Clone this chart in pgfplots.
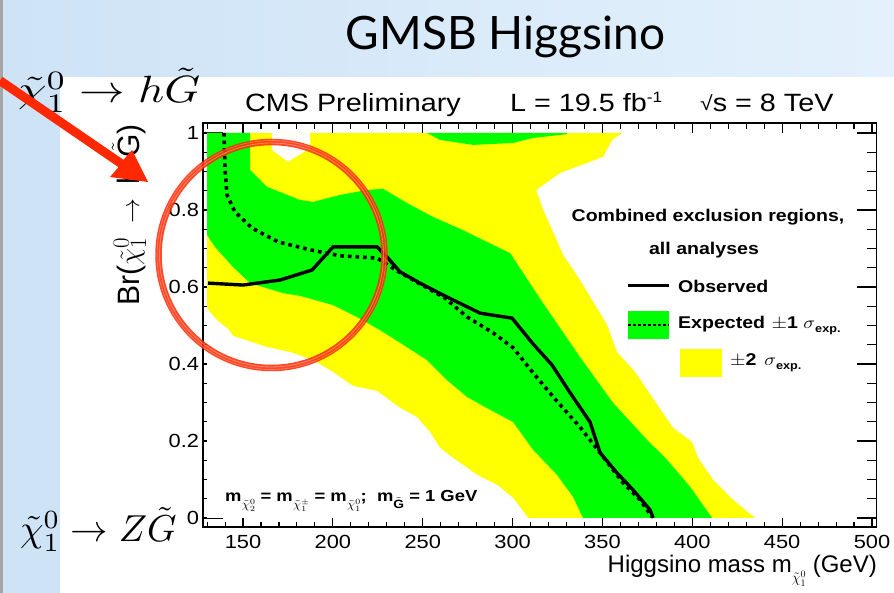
\documentclass[border=0pt]{standalone}
\usepackage{pgfplots}
\pgfplotsset{compat=1.18}
\usepackage{fontspec}
\usepackage{graphicx}
\setmainfont{Liberation Sans}
\newfontfamily\latofont{Lato}
\newcommand{\sx}[1]{\scalebox{1.15}[1]{#1}}
\newcommand{\sub}[1]{\raisebox{-7pt}{\fontsize{12}{12}\selectfont$#1$}}
\definecolor{rgreen}{RGB}{0,255,0}
\definecolor{ryellow}{RGB}{255,255,0}
\definecolor{slideblueL}{RGB}{206,227,246}
\definecolor{slideblueR}{RGB}{228,241,252}
\definecolor{annred}{RGB}{255,40,0}
\begin{document}
\begin{tikzpicture}[x=1pt,y=1pt]
\path[use as bounding box] (0,0) rectangle (894,593);
\fill[white] (0,0) rectangle (894,593);
\shade[left color=slideblueL, right color=slideblueR] (0,516) rectangle (894,593);
\fill[slideblueL] (0,0) rectangle (60,516);
\fill[black!35] (0,0) rectangle (2.5,593);
\node[anchor=base] at (505.5,543) {\fontsize{46}{46}\selectfont\latofont GMSB Higgsino};

\begin{axis}[
  at={(202.6pt,65.4pt)}, anchor=south west,
  scale only axis, width=673.9pt, height=404.25pt,
  xmin=127.5, xmax=502.5, ymin=-0.025, ymax=1.025,
  xtick=\empty,
  ytick={0,0.2,0.4,0.6,0.8,1},
  minor ytick={0.05,0.1,0.15,0.25,0.3,0.35,0.45,0.5,0.55,0.65,0.7,0.75,0.85,0.9,0.95},
  major tick length=20pt, minor tick length=10pt,
  tick style={black, line width=1.1pt},
  axis line style={line width=1.8pt},
  /pgf/number format/assume math mode=true,
  yticklabel style={font=\fontsize{19}{19}\selectfont},
  yticklabel={\sx{\pgfmathprintnumber{\tick}}},
]
% +2 sigma outer region
\addplot[fill=ryellow, draw=none] coordinates {
(130,0) (130,1) (360.9,1) (355.4,0.982) (350.3,0.938) (326.4,0.896) (313.1,0.852)
(317.0,0.800) (322.5,0.743) (328.1,0.683) (337.5,0.618) (345.9,0.553) (352.6,0.501)
(358.1,0.431) (368.2,0.379) (377.6,0.314) (389.3,0.234) (399.9,0.197) (403.2,0.156)
(411.6,0.099) (422.7,0.047) (434.9,0)} -- cycle;
% +-1 sigma band
\addplot[fill=rgreen, draw=none] coordinates {
(130,1) (153.9,1) (153.9,0.904) (163.4,0.860) (181.7,0.826) (189.0,0.821) (204.0,0.839)
(219.0,0.852) (227.9,0.855) (241.3,0.818) (255.7,0.782) (270.8,0.751) (298.6,0.688)
(315.8,0.566) (337.5,0.418) (355.9,0.299) (374.8,0.203) (386.0,0.151) (398.8,0.081)
(411.0,0) (339.2,0) (333.6,0.055) (324.7,0.112) (311.4,0.177) (300.3,0.249) (287.5,0.281)
(274.7,0.314) (263.5,0.358) (252.4,0.410) (237.4,0.455) (226.2,0.488) (213.4,0.522)
(200.1,0.553) (181.7,0.577) (172.3,0.584) (153.9,0.610) (144.4,0.652) (134.4,0.704)
(130,0.735)} -- cycle;
\addplot[fill=rgreen, draw=none] coordinates {
(252.4,1) (259.6,0.982) (278.0,0.969) (300.3,0.974) (311.4,0.987) (330.3,0.997) (330.3,1)} -- cycle;
% -2 sigma (white, not excluded)
\addplot[fill=white, draw=none] coordinates {
(130,0) (130,0.545) (131.6,0.535) (135.5,0.514) (141.7,0.491) (144.4,0.473) (163.4,0.444)
(176.2,0.431) (189.0,0.410) (200.1,0.379) (211.2,0.343) (224.6,0.330) (237.4,0.286)
(246.8,0.262) (254.1,0.223) (259.6,0.182) (266.9,0.156) (280.2,0.112) (291.4,0.086)
(300.3,0.052) (308.6,0)} -- cycle;
\addplot[fill=white, draw=none] coordinates {
(166.1,1) (166.1,0.956) (175.0,0.925) (187.3,0.961) (187.3,1)} -- cycle;
% expected
\addplot[black, line width=3.6pt, dash pattern=on 3.6pt off 4pt] coordinates {
(139.4,1.0) (140.0,0.904) (141.1,0.839) (145.5,0.795) (155.0,0.753) (169.5,0.717)
(187.8,0.696) (204.0,0.681) (224.6,0.675) (235.7,0.642) (248.5,0.608) (262.4,0.571)
(274.7,0.522) (289.1,0.481) (300.3,0.442) (311.4,0.377) (323.6,0.309) (337.5,0.236)
(348.7,0.169) (361.5,0.091) (370.9,0.047) (377.6,0.003)};
% observed
\addplot[black, line width=3.4pt] coordinates {
(130.5,0.610) (150,0.605) (170.6,0.618) (188.4,0.644) (200.1,0.704) (224.6,0.704)
(230.1,0.678) (237.4,0.639) (248.5,0.610) (261.3,0.579) (281.9,0.532) (299.7,0.519)
(311.4,0.452) (322.0,0.397) (332.0,0.325) (343.1,0.249) (348.7,0.169) (358.1,0.117)
(367.0,0.073) (376.5,0.021) (378.2,0.0)};
\end{axis}

\begin{axis}[
  at={(202.6pt,65.4pt)}, anchor=south west,
  scale only axis, width=673.9pt, height=404.25pt,
  xmin=127.5, xmax=502.5, ymin=-0.025, ymax=1.025,
  ytick=\empty,
  xtick={150,200,250,300,350,400,450,500},
  minor xtick={130,140,160,170,180,190,210,220,230,240,260,270,280,290,310,320,330,340,360,370,380,390,410,420,430,440,460,470,480,490},
  major tick length=10pt, minor tick length=6pt,
  tick style={black, line width=1.1pt},
  axis line style={line width=1.8pt},
  /pgf/number format/assume math mode=true,
  xticklabel style={font=\fontsize{19}{19}\selectfont, yshift=-3.7pt},
  xticklabel={\sx{\pgfmathprintnumber{\tick}}},
]
\draw[line width=2.8pt] (rel axis cs:0,0) -- (rel axis cs:1,0);
\end{axis}

% texts around the frame
\node[anchor=base west, inner sep=0] at (245,481) {\fontsize{25}{25}\selectfont\sx{CMS Preliminary}};
\node[anchor=base west, inner sep=0] at (510,481) {\fontsize{25}{25}\selectfont\sx{L = 19.5 fb\raisebox{9pt}{\fontsize{15}{15}\selectfont -1}}};
\node[anchor=base west, inner sep=0] at (700,481) {\fontsize{25}{25}\selectfont\sx{\raisebox{1pt}{\fontsize{20}{20}\selectfont\char"221A}s = 8 TeV}};
\node[anchor=base east, inner sep=0] at (877,20) {\fontsize{24}{24}\selectfont Higgsino mass m\raisebox{-10pt}{\fontsize{14}{14}\selectfont$\tilde{\chi}^{0}_{1}$} (GeV)};
\node[rotate=90, anchor=center, inner sep=0] at (129,378) {\scalebox{1}[1.03]{\fontsize{30}{30}\selectfont Br(\scalebox{1.1}{$\tilde{\chi}^{0}_{1}$}\hspace{6pt} $\rightarrow$ \hspace{5pt}h\hspace{2pt} $\tilde{\mbox{G}}$)}};

% legend
\node[anchor=center, inner sep=0] at (708,376) {\fontsize{17}{17}\selectfont\sx{\textbf{Combined exclusion regions,}}};
\node[anchor=center, inner sep=0] at (704,343) {\fontsize{17}{17}\selectfont\sx{\textbf{all analyses}}};
\draw[black, line width=3pt] (628,307) -- (669,307);
\node[anchor=west, inner sep=0] at (678,307) {\fontsize{17}{17}\selectfont\sx{\textbf{Observed}}};
\fill[rgreen] (628,254) rectangle (669,282);
\draw[black, line width=1.2pt, dash pattern=on 3pt off 2pt] (628,268) -- (669,268);
\node[anchor=west, inner sep=0] at (678,268) {\fontsize{17}{17}\selectfont\sx{\textbf{Expected} \hspace{1pt}$\pm$\textbf{1} \raisebox{0pt}{\fontsize{19}{19}\selectfont$\sigma$}\raisebox{-4pt}{\fontsize{11}{11}\selectfont\textbf{exp.}}}};
\fill[ryellow] (680,216) rectangle (722,244);
\node[anchor=west, inner sep=0] at (730,230) {\fontsize{17}{17}\selectfont\sx{$\pm$\textbf{2} \hspace{2pt}{\fontsize{19}{19}\selectfont$\sigma$}\raisebox{-4pt}{\fontsize{11}{11}\selectfont\textbf{exp.}}}};
\node[anchor=base west, inner sep=0] at (225,91) {\fontsize{16}{16}\selectfont\sx{\textbf{m}\sub{\tilde{\chi}^{0}_{2}}\textbf{ = m}\sub{\tilde{\chi}^{\pm}_{1}}\textbf{ = m}\sub{\tilde{\chi}^{0}_{1}}\textbf{;\ \ m}\sub{\tilde{\mbox{\textbf{G}}}}\textbf{ = 1 GeV}}};

% slide annotations
\node[anchor=base west, inner sep=0] at (18,490) {\scalebox{4.56}[3.8]{$\tilde{\chi}^{0}_{1}\rightarrow h\tilde{G}$}};
\node[anchor=base west, inner sep=0] at (20,51) {\scalebox{3.75}{$\tilde{\chi}^{0}_{1}\rightarrow Z\tilde{G}$}};

% red circle
\draw[annred, line width=6.5pt, opacity=0.85] (271.5,338) circle (113);
\draw[white, line width=0.8pt, opacity=0.35] (271.5,338) circle (112);
\draw[white, line width=0.6pt, opacity=0.3] (271.5,338) circle (114.5);
% red arrow
\fill[annred] (-2.5,508.7) -- (118.5,425.8) -- (110,416) -- (148,411) -- (132,443) -- (123.5,433.2) -- (2.5,516.1) -- cycle;
\end{tikzpicture}
\end{document}
